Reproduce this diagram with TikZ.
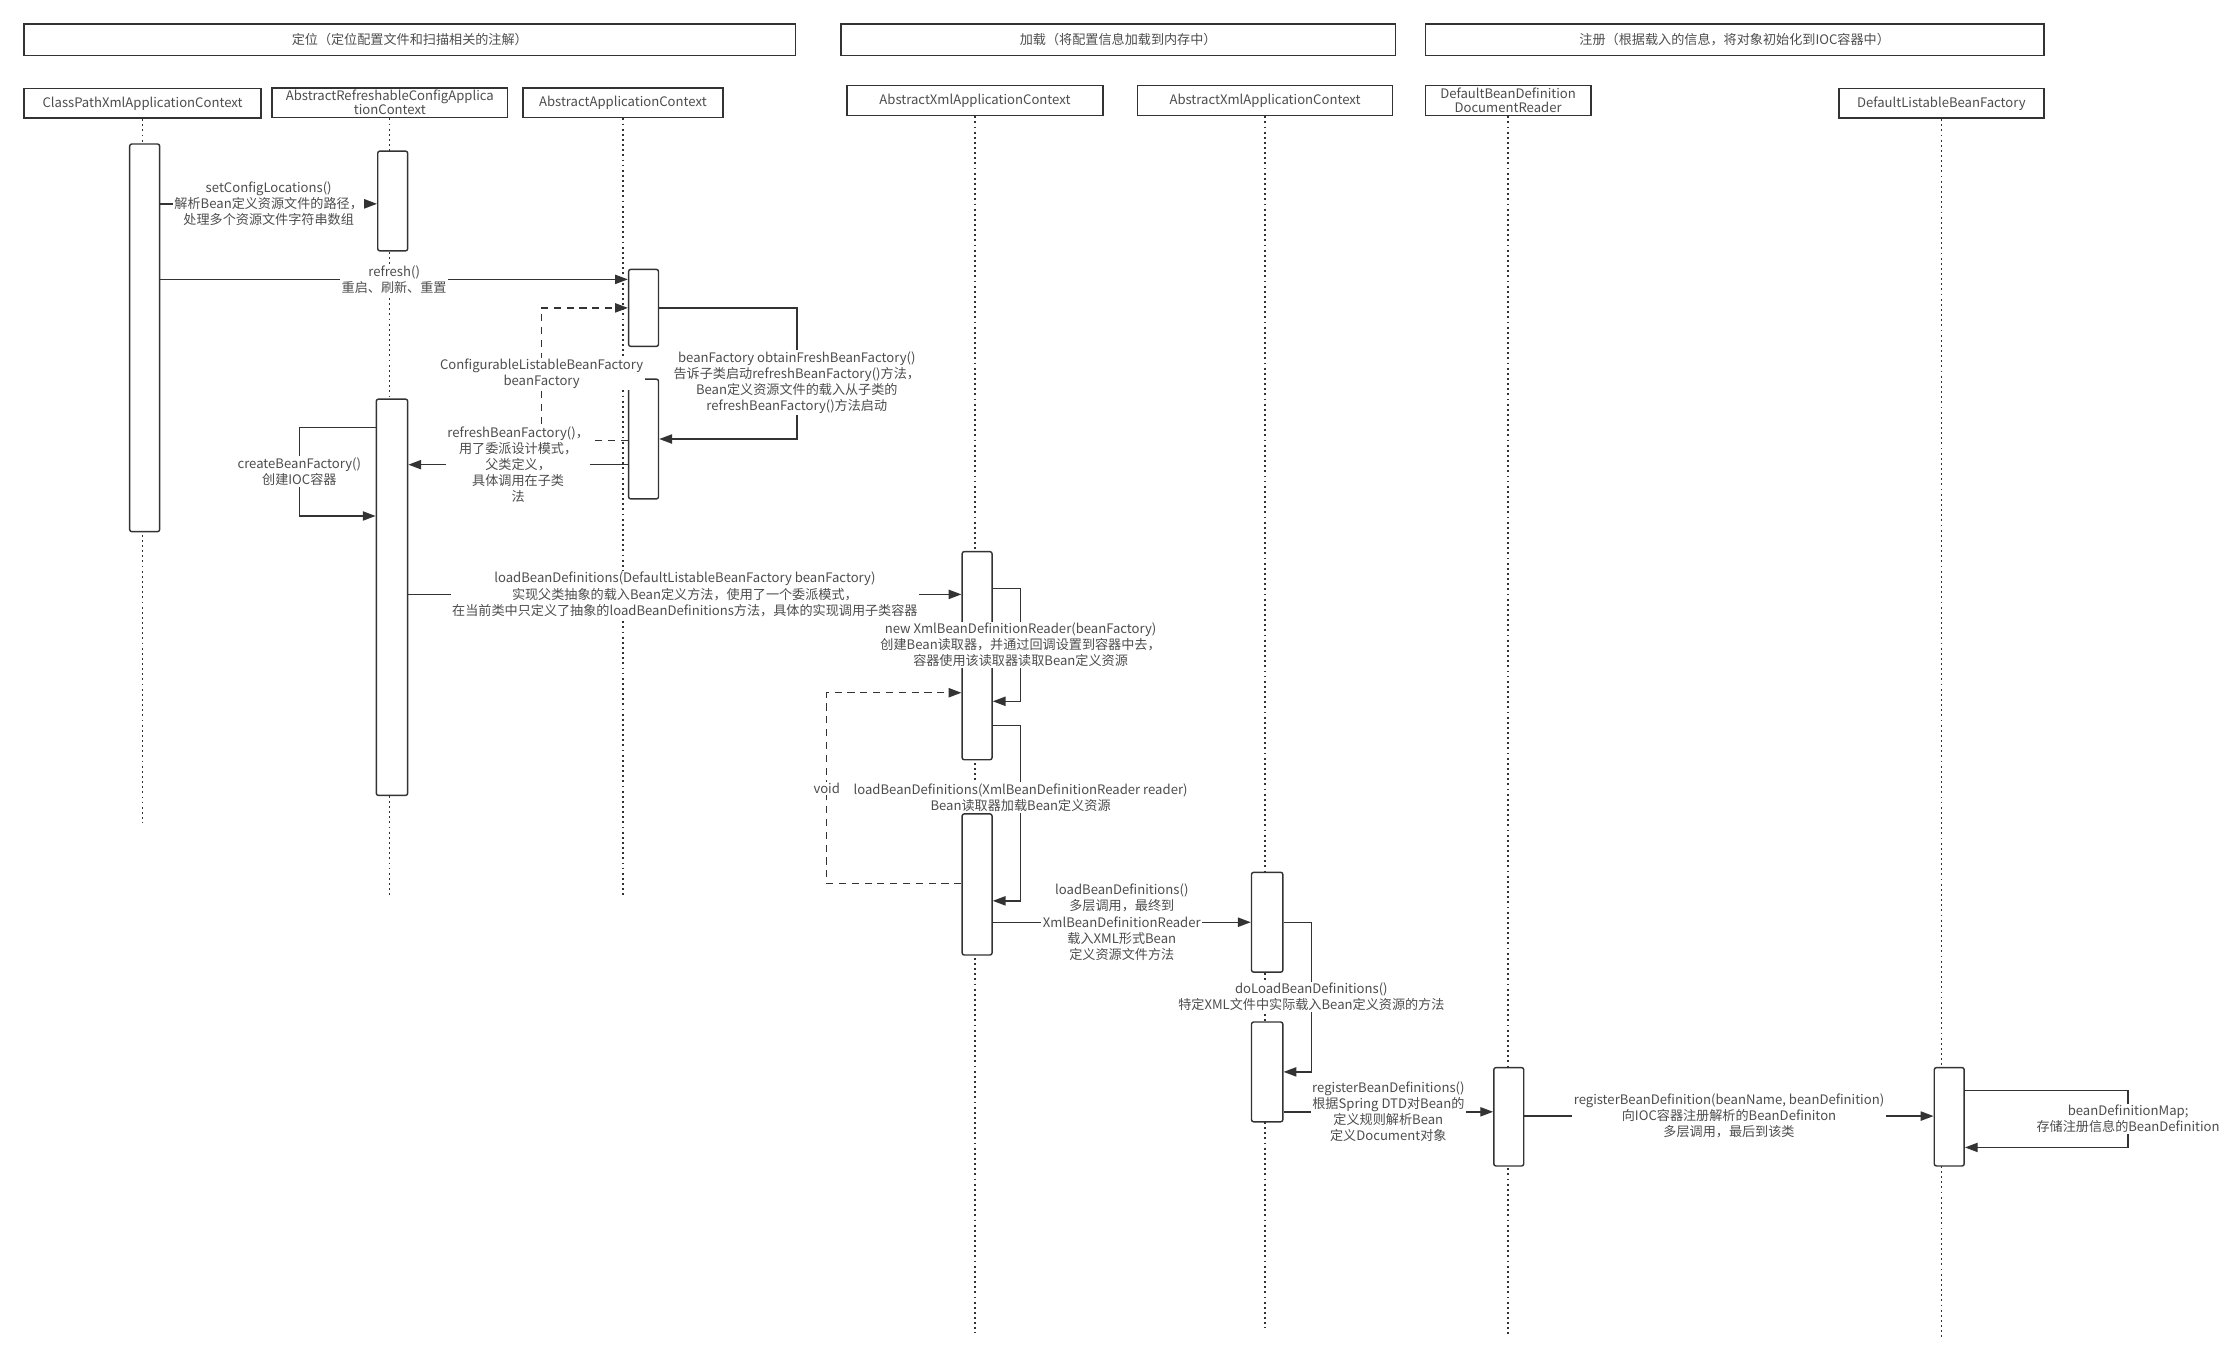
\documentclass[tikz,border=0pt]{standalone}
\usepackage{fontspec}
\newfontfamily\cjk{Noto Sans CJK SC}
\usetikzlibrary{arrows.meta, fit}
\definecolor{lineclr}{HTML}{333333}
\definecolor{textclr}{HTML}{4d4d4d}

\begin{document}
\begin{tikzpicture}[x=1pt, y=-1pt,
    every node/.style={font=\cjk\fontsize{9.2}{11.3}\selectfont, text=textclr},
    frame/.style={draw=lineclr, line width=1.2pt, minimum height=22pt},
    head/.style={draw=lineclr, line width=1.2pt, fill=white, align=center, minimum height=21pt, inner ysep=0pt},
    head2/.style={head, font=\cjk\fontsize{9.2}{10}\selectfont},
    life/.style={draw=lineclr, line width=0.9pt, dash pattern=on 1.3pt off 2.3pt},
    act/.style={draw=lineclr, line width=1pt, fill=white, rounded corners=1.5pt, inner sep=0pt},
    msg/.style={draw=lineclr, line width=1pt, -{Triangle[length=9pt, width=6.5pt]}},
    ret/.style={msg, dash pattern=on 5pt off 4pt},
    lbl/.style={fill=white, align=center, inner sep=1pt}]
    \path[use as bounding box] (0,0) rectangle (1568,958);

    % stages
    \node[frame, minimum width=541pt] (stLocate) at (287.5,28) {定位（定位配置文件和扫描相关的注解）};
    \node[frame, minimum width=389pt] (stLoad) at (784.5,28) {加载（将配置信息加载到内存中）};
    \node[frame, minimum width=434pt] (stRegister) at (1217,28) {注册（根据载入的信息，将对象初始化到IOC容器中）};

    % lifelines
    \node[head, minimum width=166pt] (cpx) at (100,72.5) {ClassPathXmlApplicationContext};
    \node[head2, minimum width=165pt] (arc) at (273.5,72) {AbstractRefreshableConfigApplica\\tionContext};
    \node[head, minimum width=140pt] (aac) at (437,72) {AbstractApplicationContext};
    \node[head, minimum width=180pt] (axa) at (684,70.5) {AbstractXmlApplicationContext};
    \node[head, minimum width=179pt] (axb) at (887.5,70.5) {AbstractXmlApplicationContext};
    \node[head2, minimum width=116pt] (dbr) at (1058,70.5) {DefaultBeanDefinition\\DocumentReader};
    \node[head, minimum width=144pt] (dlb) at (1362,72.5) {DefaultListableBeanFactory};
    \foreach \n/\y in {cpx/577, arc/630, aac/630, axa/935, axb/932, dbr/938, dlb/940}
        \draw[life] (\n.south) -- (\n.south |- 0,\y);

    % activations
    \foreach \n/\xa/\ya/\xb/\yb in {cpx1/91/101/112/373, arc1/265/106/286/176,
        aac1/441/189/462/243, aac2/441/266/462/350, arc2/264/280/286/558,
        axa1/675/387/696/533, axa2/675/571/696/670, axb1/878/612/900/682,
        axb2/878/717/900/787, dbr1/1048/749/1069/818, dlb1/1357/749/1378/818}
        \node[act, fit={(\xa,\ya) (\xb,\yb)}] (\n) {};

    % locate
    \draw[msg] (cpx1.east |- 0,143) -- node[lbl] (mSetCfg) {setConfigLocations()\\解析Bean定义资源文件的路径，\\处理多个资源文件字符串数组} (arc1.west |- 0,143);
    \draw[msg] (cpx1.east |- 0,196) -- node[lbl] (mRefresh) {refresh()\\重启、刷新、重置} (aac1.west |- 0,196);
    \draw[msg] (aac1.east |- 0,216) -- (559,216) -- node[lbl, pos=0.57] (mObtain) {beanFactory obtainFreshBeanFactory()\\告诉子类启动refreshBeanFactory()方法，\\Bean定义资源文件的载入从子类的\\refreshBeanFactory()方法启动} (559,308) -- (aac2.east |- 0,308);
    \draw[ret] (aac2.west |- 0,309) -- (380,309) -- node[lbl] (rFactory) {ConfigurableListableBeanFactory\\beanFactory} (380,216) -- (aac1.west |- 0,216);
    \draw[msg] (aac2.west |- 0,326) -- node[lbl] (mRefreshBf) {refreshBeanFactory()，\\用了委派设计模式，\\父类定义，\\具体调用在子类\\法} (arc2.east |- 0,326);
    \draw[msg] (arc2.west |- 0,300) -- (210,300) -- node[lbl] (mCreate) {createBeanFactory()\\创建IOC容器} (210,362) -- (arc2.west |- 0,362);

    % load
    \draw[msg] (arc2.east |- 0,417) -- node[lbl] (mLoadBf) {loadBeanDefinitions(DefaultListableBeanFactory beanFactory)\\实现父类抽象的载入Bean定义方法，使用了一个委派模式，\\在当前类中只定义了抽象的loadBeanDefinitions方法，具体的实现调用子类容器} (axa1.west |- 0,417);
    \draw[msg] (axa1.east |- 0,413) -- (716,413) -- node[lbl] (mNewReader) {new XmlBeanDefinitionReader(beanFactory)\\创建Bean读取器，并通过回调设置到容器中去，\\容器使用该读取器读取Bean定义资源} (716,492) -- (axa1.east |- 0,492);
    \draw[ret] (axa2.west |- 0,620) -- (580,620) -- node[lbl] (rVoid) {void} (580,486) -- (axa1.west |- 0,486);
    \draw[msg] (axa1.east |- 0,509) -- (716,509) -- node[lbl, pos=0.41] (mLoadReader) {loadBeanDefinitions(XmlBeanDefinitionReader reader)\\Bean读取器加载Bean定义资源} (716,632) -- (axa2.east |- 0,632);
    \draw[msg] (axa2.east |- 0,647) -- node[lbl] (mLoad) {loadBeanDefinitions()\\多层调用，最终到\\XmlBeanDefinitionReader\\载入XML形式Bean\\定义资源文件方法} (axb1.west |- 0,647);
    \draw[msg] (axb1.east |- 0,647) -- (920,647) -- node[lbl] (mDoLoad) {doLoadBeanDefinitions()\\特定XML文件中实际载入Bean定义资源的方法} (920,752) -- (axb2.east |- 0,752);

    % register
    \draw[msg] (axb2.east |- 0,780) -- node[lbl] (mRegDefs) {registerBeanDefinitions()\\根据Spring DTD对Bean的\\定义规则解析Bean\\定义Document对象} (dbr1.west |- 0,780);
    \draw[msg] (dbr1.east |- 0,783) -- node[lbl] (mRegDef) {registerBeanDefinition(beanName, beanDefinition)\\向IOC容器注册解析的BeanDefiniton\\多层调用，最后到该类} (dlb1.west |- 0,783);
    \draw[msg] (dlb1.east |- 0,765) -- (1493,765) -- node[lbl] (mMap) {beanDefinitionMap;\\存储注册信息的BeanDefinition} (1493,805) -- (dlb1.east |- 0,805);
\end{tikzpicture}
\end{document}
